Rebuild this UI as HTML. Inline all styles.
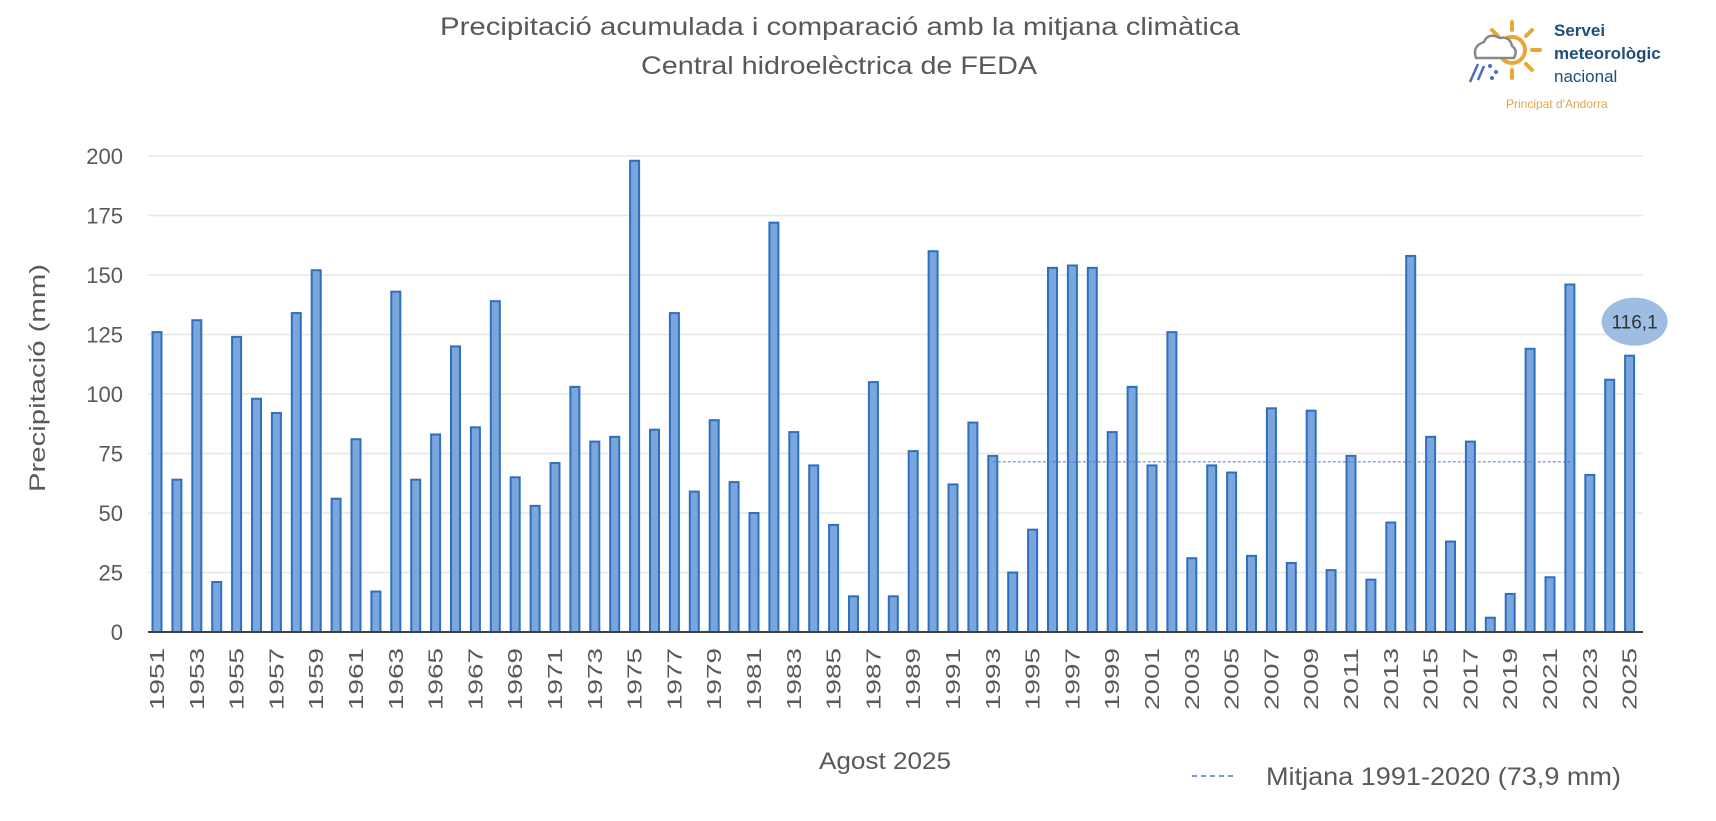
<!DOCTYPE html>
<html><head><meta charset="utf-8"><style>
body{margin:0;background:#fff;}
svg text{font-family:"Liberation Sans",sans-serif;}
</style></head><body>
<svg id="chart" width="1716" height="816" xmlns="http://www.w3.org/2000/svg">
<text x="840" y="35" text-anchor="middle" font-size="25" fill="#595959" textLength="800" lengthAdjust="spacingAndGlyphs">Precipitació acumulada i comparació amb la mitjana climàtica</text>
<text x="839" y="74" text-anchor="middle" font-size="25" fill="#595959" textLength="396" lengthAdjust="spacingAndGlyphs">Central hidroelèctrica de FEDA</text>
<g>
 <g stroke="#e8a838" stroke-width="4" stroke-linecap="round" fill="none">
  <circle cx="1512" cy="50" r="13"/>
  <line x1="1512" y1="22" x2="1512" y2="30"/><line x1="1512" y1="70" x2="1512" y2="78"/>
  <line x1="1532" y1="50" x2="1540" y2="50"/><line x1="1526" y1="36" x2="1532" y2="30"/>
  <line x1="1526" y1="64" x2="1532" y2="70"/><line x1="1498" y1="36" x2="1492" y2="30"/>
 </g>
 <path d="M1476 58 q-4-12 8-16 q4-10 16-4 q10-2 12 8 q6 4 2 12 z" fill="#fff" stroke="#888" stroke-width="2.5"/>
 <line x1="1470" y1="82" x2="1478" y2="64" stroke="#4a6fb5" stroke-width="2.5"/>
 <line x1="1478" y1="80" x2="1484" y2="66" stroke="#4a6fb5" stroke-width="2.5"/>
 <circle cx="1490" cy="66" r="2" fill="#4a6fb5"/><circle cx="1496" cy="72" r="2" fill="#4a6fb5"/><circle cx="1492" cy="78" r="2" fill="#4a6fb5"/>
 <text x="1554" y="36" font-size="17" font-weight="bold" fill="#1f4e79">Servei</text>
 <text x="1554" y="59" font-size="17" font-weight="bold" fill="#1f4e79">meteorològic</text>
 <text x="1554" y="82" font-size="17" fill="#1f4e79">nacional</text>
 <text x="1506" y="108" font-size="12" fill="#e0a84a">Principat d'Andorra</text>
</g>
<g id="grid"></g><g id="bars"></g><g id="ticks"></g>
<text transform="translate(45,378) rotate(-90)" text-anchor="middle" font-size="22" fill="#595959" textLength="228" lengthAdjust="spacingAndGlyphs">Precipitació (mm)</text>
<text x="885" y="769" text-anchor="middle" font-size="24" fill="#595959" textLength="132" lengthAdjust="spacingAndGlyphs">Agost 2025</text>
<g>
 <line x1="1192" y1="776" x2="1233" y2="776" stroke="#4a7ac8" stroke-width="1.5" stroke-dasharray="5,4"/>
 <text x="1266" y="785" font-size="25" fill="#595959" textLength="355" lengthAdjust="spacingAndGlyphs">Mitjana 1991-2020 (73,9 mm)</text>
</g>
</svg>
<script>
const years=[];for(let y=1951;y<=2025;y++)years.push(y);
const values=[126,64,131,21,124,98,92,134,152,56,81,17,143,64,83,120,86,139,65,53,71,103,80,82,198,85,134,59,89,63,50,172,84,70,45,15,105,15,76,160,62,88,74,25,43,153,154,153,84,103,70,126,31,70,67,32,94,29,93,26,74,22,46,158,82,38,80,6,16,119,23,146,66,106,116.1];
const yTicks=[0,25,50,75,100,125,150,175,200];
const meanValue=71.5;const meanStart=1993,meanEnd=2022;
const NS="http://www.w3.org/2000/svg";
const y0=632,y200=156,xL=148,xR=1643,x0=157,step=19.9;
const ys=v=>y0-(y0-y200)*v/200;
const xs=i=>x0+i*step;
function mk(t,a,p){const e=document.createElementNS(NS,t);for(const k in a)e.setAttribute(k,a[k]);p.appendChild(e);return e;}
const G=document.getElementById('grid'),B=document.getElementById('bars'),T=document.getElementById('ticks');
yTicks.forEach(v=>{
 const l=mk('line',{x1:xL,x2:xR,y1:ys(v),y2:ys(v),stroke:'#e6e6e6','stroke-width':1.5},G);
 
 
 const t=mk('text',{x:123,y:ys(v)+8,'text-anchor':'end','font-size':22,fill:'#595959'},T);t.textContent=v;
 
 
});
values.forEach((v,i)=>{
 const r=mk('rect',{x:xs(i)-4.5,y:ys(v),width:9,height:y0-ys(v),fill:'#7aa6dc',stroke:'#2e6fc0','stroke-width':2},B);
 
 
 if(i%2===0){const t=mk('text',{transform:`translate(${xs(i)+7},${y0+16}) rotate(-90)`,'text-anchor':'end','font-size':20,fill:'#595959',textLength:62,lengthAdjust:'spacingAndGlyphs'},T);t.textContent=years[i];
 
 }
});
const ax=mk('line',{x1:xL,x2:xR,y1:y0,y2:y0,stroke:'#404040','stroke-width':2},T);


const ml=mk('line',{x1:xs(meanStart-1951),x2:xs(meanEnd-1951),y1:ys(meanValue),y2:ys(meanValue),stroke:'#4a7ac8','stroke-width':1,'stroke-dasharray':'3,2'},T);


const li=values.length-1;
const bub=mk('ellipse',{cx:xs(li)+5,cy:ys(values[li])-34,rx:33,ry:24,fill:'#9dbde3'},T);


const bt=mk('text',{x:xs(li)+5,y:ys(values[li])-27,'text-anchor':'middle','font-size':19,fill:'#333'},T);
bt.textContent=String(values[li]).replace('.',',');


</script>
</body></html>
